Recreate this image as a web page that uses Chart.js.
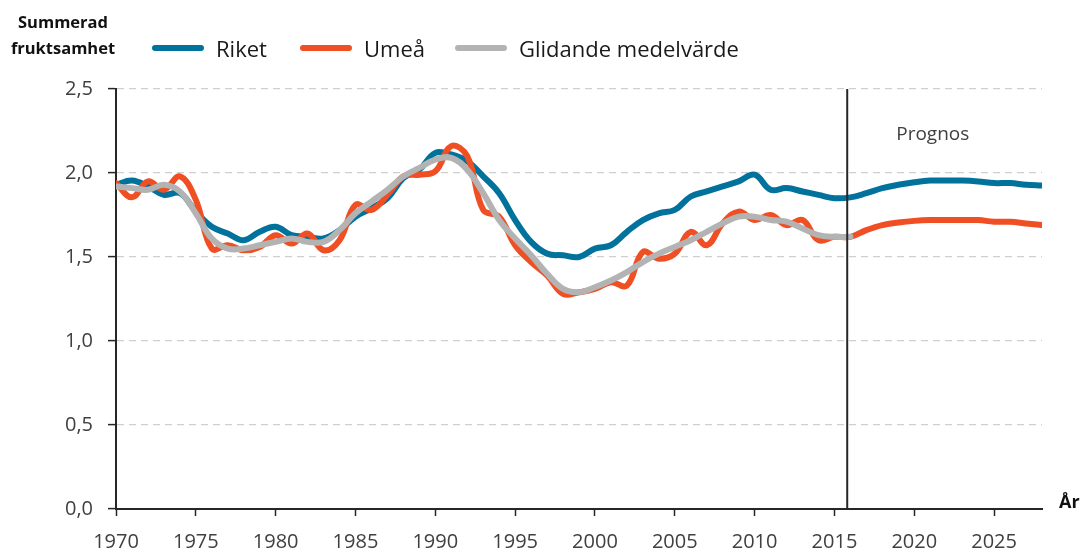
<!DOCTYPE html>
<html lang="sv">
<head>
<meta charset="utf-8">
<script src="https://cdn.jsdelivr.net/npm/chart.js@4/dist/chart.umd.min.js"></script>
<style>
  html, body { margin: 0; padding: 0; background: #fff; }
  #wrap { position: relative; width: 1082px; height: 554px; font-family: 'Open Sans', sans-serif; }
  #chart { position: absolute; left: 0; top: 0; }
  #title { position: absolute; left: 0; top: 9px; width: 126px; text-align: center;
           font-weight: bold; font-size: 16.5px; line-height: 26px; color: #111; }
  .leg { position: absolute; top: 35px; height: 26px; display: flex; align-items: center; font-size: 22px; color: #1a1a1a; }
  .leg i { display: inline-block; width: 52px; height: 6px; border-radius: 3px; margin-right: 12px; }
  .leg span { line-height: 26px; }
</style>
</head>
<body>
<div id="wrap">
  <canvas id="chart" width="1082" height="554"></canvas>
  <div id="title">Summerad<br>fruktsamhet</div>
  <div id="legend"></div>
</div>
<script>
document.addEventListener('DOMContentLoaded', () => {
  // Years on the x axis
  const years = [
    1970, 1971, 1972, 1973, 1974, 1975, 1976, 1977, 1978, 1979,
    1980, 1981, 1982, 1983, 1984, 1985, 1986, 1987, 1988, 1989,
    1990, 1991, 1992, 1993, 1994, 1995, 1996, 1997, 1998, 1999,
    2000, 2001, 2002, 2003, 2004, 2005, 2006, 2007, 2008, 2009,
    2010, 2011, 2012, 2013, 2014, 2015, 2016, 2017, 2018, 2019,
    2020, 2021, 2022, 2023, 2024, 2025, 2026, 2027, 2028
  ];

  // Summerad fruktsamhet, Riket (1970-2028)
  const riket = [
    1.93, 1.955, 1.92, 1.87, 1.88, 1.77, 1.68, 1.64, 1.60, 1.65,
    1.68, 1.63, 1.62, 1.61, 1.66, 1.74, 1.79, 1.85, 1.97, 2.02,
    2.12, 2.11, 2.07, 1.98, 1.88, 1.72, 1.59, 1.52, 1.51, 1.50,
    1.55, 1.57, 1.65, 1.72, 1.76, 1.78, 1.86, 1.89, 1.92, 1.95,
    1.99, 1.90, 1.91, 1.89, 1.87, 1.85, 1.855, 1.88, 1.91, 1.93,
    1.945, 1.955, 1.955, 1.955, 1.95, 1.94, 1.94, 1.93, 1.925
  ];

  // Umeå (1970-2028)
  const umea = [
    1.94, 1.855, 1.95, 1.90, 1.98, 1.84, 1.55, 1.57, 1.54, 1.56,
    1.63, 1.58, 1.64, 1.54, 1.60, 1.81, 1.78, 1.87, 1.98, 1.99,
    2.01, 2.16, 2.10, 1.78, 1.74, 1.57, 1.47, 1.39, 1.28, 1.29,
    1.31, 1.35, 1.33, 1.53, 1.49, 1.52, 1.65, 1.57, 1.70, 1.77,
    1.72, 1.75, 1.69, 1.72, 1.60, 1.62, 1.62, 1.66, 1.69, 1.705,
    1.715, 1.72, 1.72, 1.72, 1.72, 1.71, 1.71, 1.70, 1.69
  ];

  // Glidande medelvärde, Umeå (1970-2016)
  const glidande = [
    1.92, 1.91, 1.90, 1.93, 1.89, 1.76, 1.61, 1.55, 1.55, 1.57,
    1.59, 1.61, 1.59, 1.59, 1.66, 1.76, 1.83, 1.90, 1.98, 2.03,
    2.08, 2.09, 2.02, 1.88, 1.72, 1.61, 1.51, 1.40, 1.31, 1.29,
    1.32, 1.36, 1.41, 1.47, 1.52, 1.56, 1.60, 1.65, 1.70, 1.74,
    1.74, 1.72, 1.71, 1.67, 1.63, 1.62, 1.62
  ];

  const xTickYears = [1970, 1975, 1980, 1985, 1990, 1995, 2000, 2005, 2010, 2015, 2020, 2025];
  const yTicks = [0, 0.5, 1.0, 1.5, 2.0, 2.5];
  const PROGNOS_START = 2015.8;

  const COLORS = { riket: '#00729C', umea: '#F04E23', glidande: '#B3B3B3' };
  const TEXT = '#404040';

  const toPoints = vals => vals.map((v, i) => ({ x: years[i], y: v }));

  const lineStyle = {
    borderWidth: 6,
    pointRadius: 0,
    tension: 0.4,
    fill: false,
    borderCapStyle: 'round',
    borderJoinStyle: 'round'
  };

  const datasets = [
    { label: 'Riket', data: toPoints(riket), borderColor: COLORS.riket, order: 3, ...lineStyle },
    { label: 'Umeå', data: toPoints(umea), borderColor: COLORS.umea, order: 2, ...lineStyle },
    { label: 'Glidande medelvärde', data: toPoints(glidande), borderColor: COLORS.glidande, order: 1, ...lineStyle }
  ];

  // HTML legend next to the title
  const legendPos = [152, 300, 455];
  const legendEl = document.getElementById('legend');
  datasets.forEach((ds, i) => {
    const div = document.createElement('div');
    div.className = 'leg';
    div.style.left = legendPos[i] + 'px';
    div.innerHTML = `<i style="background:${ds.borderColor}"></i><span>${ds.label}</span>`;
    legendEl.appendChild(div);
  });

  // Vertical prognosis line + labels
  const prognosPlugin = {
    id: 'prognos',
    afterDatasetsDraw(chart) {
      const { ctx, chartArea, scales } = chart;
      const x = scales.x.getPixelForValue(PROGNOS_START);
      ctx.save();
      ctx.strokeStyle = '#262626';
      ctx.lineWidth = 2;
      ctx.beginPath();
      ctx.moveTo(x, chartArea.top);
      ctx.lineTo(x, chartArea.bottom);
      ctx.stroke();

      ctx.fillStyle = TEXT;
      ctx.font = '19px "Open Sans"';
      ctx.textAlign = 'left';
      ctx.textBaseline = 'middle';
      ctx.fillText('Prognos', x + 49, scales.y.getPixelForValue(2.23));

      ctx.fillStyle = '#111';
      ctx.font = 'bold 18px "Open Sans"';
      ctx.fillText('År', chartArea.right + 17, chartArea.bottom - 6);
      ctx.restore();
    }
  };

  const ctx = document.getElementById('chart').getContext('2d');
  new Chart(ctx, {
    type: 'line',
    data: { datasets },
    options: {
      responsive: false,
      animation: false,
      events: [],
      layout: { padding: { top: 89, right: 40, left: 0, bottom: 0 } },
      plugins: {
        legend: { display: false },
        tooltip: { enabled: false }
      },
      scales: {
        x: {
          type: 'linear',
          min: 1970,
          max: 2028,
          afterBuildTicks: scale => { scale.ticks = xTickYears.map(v => ({ value: v })); },
          afterFit: scale => { scale.height = 45; },
          ticks: {
            color: TEXT,
            font: { family: 'Open Sans', size: 20 },
            padding: 14,
            maxRotation: 0,
            callback: v => String(v)
          },
          grid: { drawOnChartArea: false, drawTicks: true, tickLength: 7, tickColor: '#262626', tickWidth: 1.5 },
          border: { color: '#262626', width: 2 }
        },
        y: {
          min: 0,
          max: 2.5,
          afterBuildTicks: scale => { scale.ticks = yTicks.map(v => ({ value: v })); },
          afterFit: scale => { scale.width = 116; },
          ticks: {
            color: TEXT,
            font: { family: 'Open Sans', size: 20 },
            padding: 15,
            callback: v => v.toFixed(1).replace('.', ',')
          },
          grid: {
            color: '#CFCFCF',
            lineWidth: 1.2,
            tickLength: 8,
            tickColor: '#262626',
            tickWidth: 1.5,
            tickBorderDash: []
          },
          border: { color: '#262626', width: 2, dash: [7, 5] }
        }
      }
    },
    plugins: [prognosPlugin]
  });
});
</script>
</body>
</html>
